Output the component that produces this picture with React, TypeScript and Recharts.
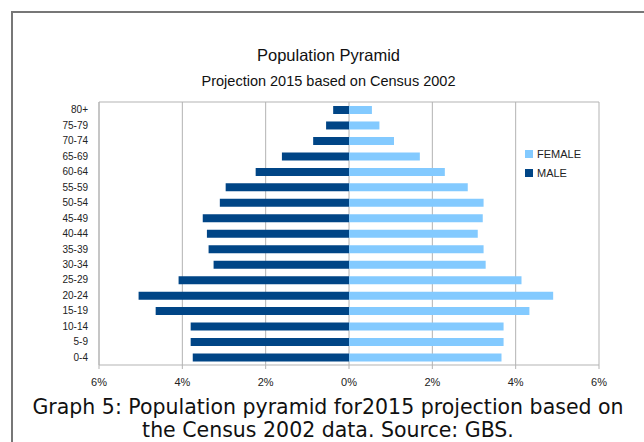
import React from 'react';
import { BarChart, Bar, XAxis, YAxis, CartesianGrid } from 'recharts';

const AGE_GROUPS = ['80+', '75-79', '70-74', '65-69', '60-64', '55-59', '50-54', '45-49', '40-44', '35-39', '30-34', '25-29', '20-24', '15-19', '10-14', '5-9', '0-4'];
const MALE = [0.38, 0.55, 0.86, 1.61, 2.24, 2.96, 3.1, 3.51, 3.41, 3.37, 3.25, 4.09, 5.05, 4.64, 3.8, 3.8, 3.75];
const FEMALE = [0.55, 0.73, 1.08, 1.7, 2.3, 2.85, 3.23, 3.21, 3.09, 3.23, 3.28, 4.14, 4.9, 4.33, 3.71, 3.71, 3.66];
const X_TICKS = [-6, -4, -2, 0, 2, 4, 6];
const SERIES = ['FEMALE', 'MALE'];

const COLORS: Record<string, string> = { FEMALE: '#83caff', MALE: '#004586' };

// male values go negative so they grow to the left
const data = AGE_GROUPS.map((age, i) => ({ age, MALE: -MALE[i], FEMALE: FEMALE[i] }));

const FONT = '"Liberation Sans", Arial, sans-serif';

export default function App() {
  return (
    <div style={{ position: 'fixed', left: 0, top: 0, width: 644, height: 442, background: '#fff', overflow: 'hidden' }}>
      {/* outer frame, only top/left edges visible */}
      <div style={{ position: 'absolute', left: 11, top: 11, width: 700, height: 500, borderTop: '2px solid #777', borderLeft: '2px solid #777' }} />

      <div style={{ position: 'absolute', left: 0, top: 46, width: 657, textAlign: 'center', fontFamily: FONT, fontSize: 16.5, color: '#111' }}>
        Population Pyramid
      </div>
      <div style={{ position: 'absolute', left: 0, top: 73, width: 657, textAlign: 'center', fontFamily: FONT, fontSize: 14.5, color: '#111' }}>
        Projection 2015 based on Census 2002
      </div>

      <div style={{ position: 'absolute', left: 0, top: 0 }}>
        <BarChart
          width={644}
          height={400}
          data={data}
          layout="vertical"
          stackOffset="sign"
          barSize={8}
          margin={{ top: 102, right: 45, bottom: 0, left: 0 }}
        >
          <CartesianGrid
            stroke="#b3b3b3"
            horizontalCoordinatesGenerator={({ offset }: any) => [offset.top]}
          />
          <XAxis
            type="number"
            domain={[-6, 6]}
            ticks={X_TICKS}
            height={35}
            tickSize={4}
            tickMargin={9}
            stroke="#b3b3b3"
            tick={{ fill: '#222', fontSize: 11, fontFamily: FONT }}
            tickFormatter={(v: number) => `${Math.abs(v)}%`}
          />
          <YAxis
            type="category"
            dataKey="age"
            width={99}
            tickLine={false}
            tickMargin={5}
            stroke="#b3b3b3"
            interval={0}
            tick={{ fill: '#222', fontSize: 10, fontFamily: FONT }}
          />
          <Bar dataKey="FEMALE" stackId="p" fill={COLORS.FEMALE} isAnimationActive={false} />
          <Bar dataKey="MALE" stackId="p" fill={COLORS.MALE} isAnimationActive={false} />
        </BarChart>
      </div>

      {/* legend */}
      <div style={{ position: 'absolute', left: 525, top: 144, fontFamily: FONT, fontSize: 11, color: '#222' }}>
        {SERIES.map((s) => (
          <div key={s} style={{ display: 'flex', alignItems: 'center', height: 19 }}>
            <span style={{ width: 8, height: 8, background: COLORS[s], marginRight: 4, display: 'inline-block' }} />
            {s}
          </div>
        ))}
      </div>

      <div style={{ position: 'absolute', left: 0, top: 396, width: 656, textAlign: 'center', fontFamily: '"DejaVu Sans", Verdana, sans-serif', fontSize: 20.5, lineHeight: '23px', color: '#111' }}>
        Graph 5: Population pyramid for2015 projection based on
        <br />
        the Census 2002 data. Source: GBS.
      </div>
    </div>
  );
}
